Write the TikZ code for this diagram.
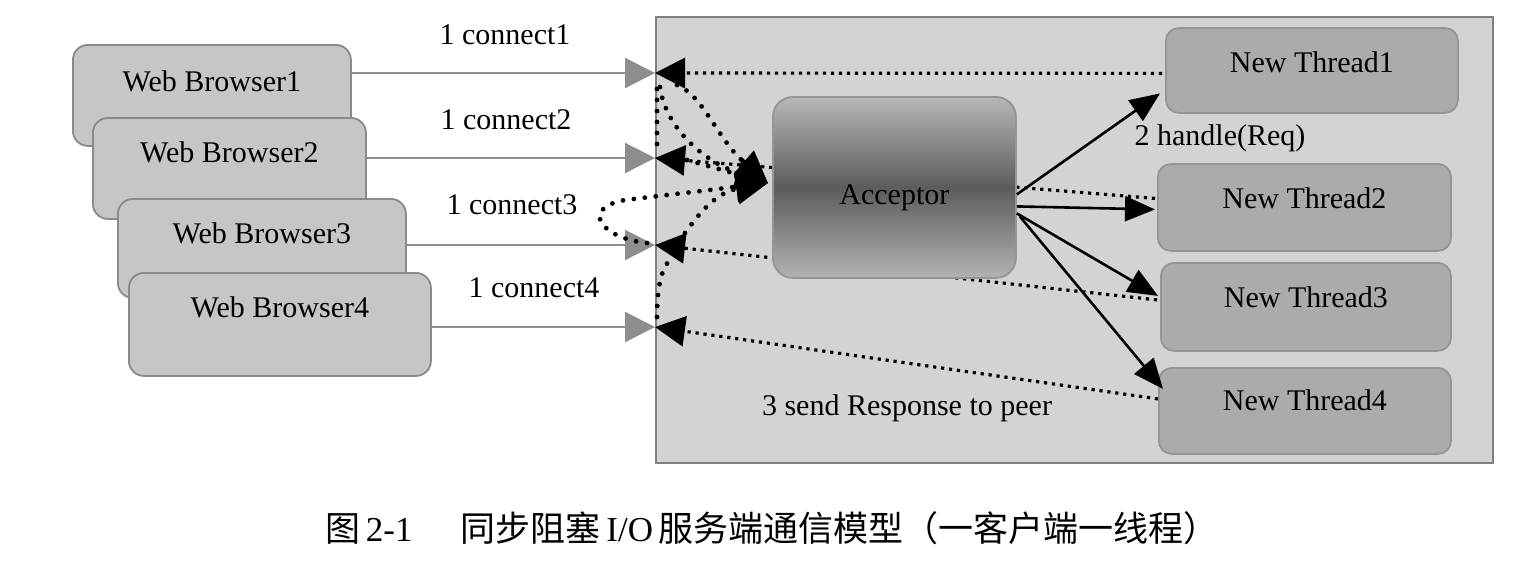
\documentclass[tikz,border=0pt]{standalone}
\usepackage{fontspec}
\setmainfont{Liberation Serif}
\newfontfamily\cjk{Noto Sans CJK SC}
\usetikzlibrary{arrows.meta,calc}
\definecolor{brfill}{HTML}{C6C6C6}
\definecolor{brdraw}{HTML}{8A8A8A}
\definecolor{srvfill}{HTML}{D3D3D3}
\definecolor{srvdraw}{HTML}{808080}
\definecolor{thfill}{HTML}{ABABAB}
\definecolor{thdraw}{HTML}{959595}
\definecolor{connc}{HTML}{8E8E8E}
\tikzset{
  browser/.style={draw=brdraw, line width=0.9pt, fill=brfill, rounded corners=7.5pt, anchor=north west, inner sep=0pt},
  thread/.style={draw=thdraw, line width=0.9pt, fill=thfill, rounded corners=6.5pt, anchor=north west, inner sep=0pt},
  boxtxt/.style={anchor=center, yshift=-17.5pt, inner sep=0pt},
  txt/.style={inner sep=0pt},
  connline/.style={draw=connc, line width=1.1pt, -{Triangle[length=15pt,width=15pt,fill=connc]}},
  resp/.style={draw=black, line width=1.6pt, dash pattern=on 1.6pt off 2.4pt, -{Triangle[length=15pt,width=15pt]}},
  flow/.style={draw=black, line width=2.4pt, line cap=round, dash pattern=on 0pt off 5.5pt},
  flowarr/.style={flow, -{Triangle[length=16pt,width=15pt]}},
  handle/.style={draw=black, line width=1.3pt, -{Triangle[length=15pt,width=12.5pt]}}
}
\begin{document}
\begin{tikzpicture}[x=0.5pt,y=-0.5pt, font=\fontsize{15}{18}\selectfont]
\useasboundingbox[fill=white] (0,0) rectangle (1534,570);

% browsers
\node[browser, minimum width=139pt, minimum height=50.5pt, label={[boxtxt,yshift=-1pt]north:Web Browser1}] (b1) at (72,44) {};
\node[browser, minimum width=136.5pt, minimum height=50.5pt, label={[boxtxt]north:Web Browser2}] (b2) at (92,117) {};
\node[browser, minimum width=144pt, minimum height=49.5pt, label={[boxtxt]north:Web Browser3}] (b3) at (117,198) {};
\node[browser, minimum width=151pt, minimum height=51.5pt, label={[boxtxt]north:Web Browser4}] (b4) at (128,272) {};

% server
\node[draw=srvdraw, line width=1pt, fill=srvfill, anchor=north west, inner sep=0pt, minimum width=418.5pt, minimum height=223pt] (srv) at (655,16) {};

% connection points
\coordinate (c1) at (655,73);
\coordinate (c2) at (655,158);
\coordinate (c3) at (655,245);
\coordinate (c4) at (655,327);
\coordinate (ain) at (768,183);

% threads
\node[thread, minimum width=146pt, minimum height=42.5pt, label={[boxtxt]north:New Thread1}] (t1) at (1165,27) {};
\node[thread, minimum width=146.5pt, minimum height=43.5pt, label={[boxtxt]north:New Thread2}] (t2) at (1157,163) {};
\node[thread, minimum width=145pt, minimum height=44pt, label={[boxtxt]north:New Thread3}] (t3) at (1160,262) {};
\node[thread, minimum width=146pt, minimum height=43pt, label={[boxtxt,yshift=1pt]north:New Thread4}] (t4) at (1158,367) {};

% responses (behind acceptor)
\draw[resp] ($(t1.west)+(-3,3)$) -- (c1);
\draw[resp] ($(t2.west)+(-2,-9)$) -- (c2);
\draw[resp] ($(t3.west)+(-3,-7)$) -- (c3);
\draw[resp] ($(t4.west)+(0,-12)$) -- (c4);

% acceptor
\node[draw=thdraw, line width=0.9pt, rounded corners=10pt, anchor=north west, inner sep=0pt,
      minimum width=121.5pt, minimum height=90.5pt, shading=axis,
      top color=black!28, bottom color=black!30, middle color=black!64,
      label={[anchor=center, yshift=-51pt, inner sep=0pt]north:Acceptor}] (acc) at (772,96) {};

% browser connections
\draw[connline] (b1.east |- c1) -- (c1);
\draw[connline] (b2.east |- c2) -- (c2);
\draw[connline] (b3.east |- c3) -- (c3);
\draw[connline] (b4.east |- c4) -- (c4);

% flows to acceptor
\draw[flowarr] ($(c1)+(22,12)$) .. controls (703,95) and (718,140) .. (ain);
\draw[flowarr] ($(c1)+(5,14)$) .. controls (665,125) and (700,160) .. (ain);
\draw[flow] ($(c1)+(2,16)$) -- ($(c2)+(2,-12)$);
\draw[flowarr] ($(c2)+(32,2)$) -- (ain);
\draw[flowarr] ($(c3)+(-8,-2)$) .. controls (600,238) and (580,208) .. (625,200) -- (ain);
\draw[flowarr] ($(c3)+(30,-12)$) .. controls (705,205) and (720,192) .. (ain);
\draw[flow] ($(c4)+(2,-10)$) .. controls (657,285) and (662,265) .. ($(c3)+(18,12)$);

% handle arrows
\draw[handle] ($(acc.east)+(0,7)$) -- ($(t1.west)+(-5,23)$);
\draw[handle] ($(acc.east)+(0,19)$) -- ($(t2.west)+(-2,2)$);
\draw[handle] ($(acc.east)+(0,26)$) -- ($(t3.west)+(-2,-11)$);
\draw[handle] ($(acc.east)+(3,29)$) -- ($(t4.west)+(5,-22)$);

% labels
\node[txt] (l1) at (505,35) {1 connect1};
\node[txt] (l2) at (506,120) {1 connect2};
\node[txt] (l3) at (512,205) {1 connect3};
\node[txt] (l4) at (534,288) {1 connect4};
\node[txt] (l5) at (1220,138) {2 handle(Req)};
\node[txt] (l6) at (907,408) {3 send Response to peer};

% caption
\node[txt, font=\fontsize{17.5}{20}\selectfont] (cap) at (772,528)
  {{\cjk 图}\,2-1\hspace{24pt}{\cjk 同步阻塞}\,I/O\,{\cjk 服务端通信模型（一客户端一线程）}};
\end{tikzpicture}
\end{document}
